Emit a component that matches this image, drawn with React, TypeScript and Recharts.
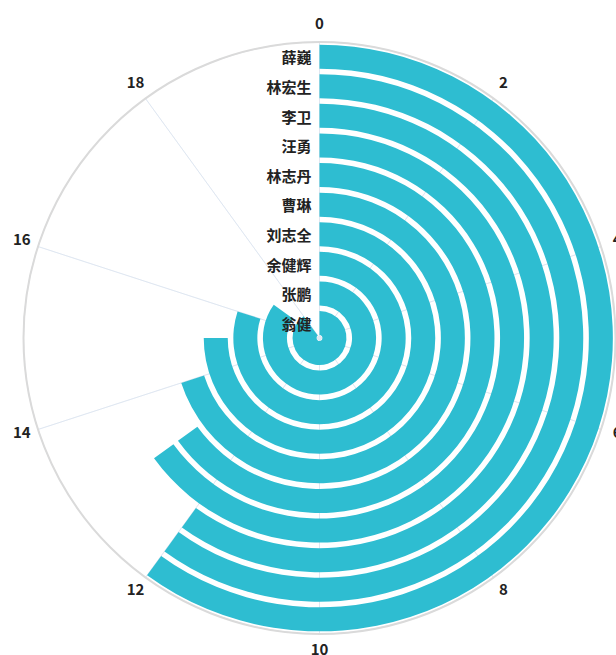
import React from 'react';
import { RadialBarChart, RadialBar, PolarGrid, PolarAngleAxis, PolarRadiusAxis } from 'recharts';

// inner ring first, outer ring last
const names = ['翁健', '张鹏', '余健辉', '刘志全', '曹琳', '林志丹', '汪勇', '李卫', '林宏生', '薛巍'];
const values = [18, 17, 16, 15, 14, 13, 13, 12, 12, 12];
const angleTicks = [0, 2, 4, 6, 8, 10, 12, 14, 16, 18];

const data = names.map((name, i) => ({ name, value: values[i] }));

const FONT = '"Noto Sans CJK SC", "Noto Sans", sans-serif';

const AngleTick = (props: any) => {
  const { x, y, payload } = props;
  return (
    <text x={x} y={y - 3} textAnchor="middle" dominantBaseline="central" fontSize={15} fontWeight={700} fill="#222" fontFamily={FONT}>
      {payload.value}
    </text>
  );
};

const NameTick = (props: any) => {
  const { x, y, payload } = props;
  return (
    <text x={x - 8} y={y} textAnchor="end" dominantBaseline="central" fontSize={15} fontWeight={700} fill="#222" fontFamily={FONT}>
      {payload.value}
    </text>
  );
};

export default function App() {
  return (
    <div style={{ position: 'fixed', left: 0, top: 0, width: 616, height: 655, background: '#fff' }}>
      <RadialBarChart
        width={616}
        height={655}
        data={data}
        cx={319.5}
        cy={338}
        innerRadius={0}
        outerRadius={296}
        startAngle={90}
        endAngle={-270}
        margin={{ top: 0, right: 0, bottom: 0, left: 0 }}
      >
        <PolarGrid gridType="circle" polarRadius={[296]} stroke="#dde4f0" />
        <PolarAngleAxis
          type="number"
          domain={[0, 20]}
          ticks={angleTicks}
          tickSize={17}
          tickLine={false}
          axisLineType="circle"
          axisLine={{ stroke: '#dadada', strokeWidth: 2 }}
          tick={<AngleTick />}
        />
        <PolarRadiusAxis
          type="category"
          dataKey="name"
          angle={90}
          axisLine={false}
          tickLine={false}
          tick={<NameTick />}
        />
        <RadialBar dataKey="value" fill="#2ebdd1" isAnimationActive={false} />
        {/* faint split lines showing through the bars */}
        <PolarGrid gridType="circle" polarRadius={[]} stroke="#e6f0f6" strokeOpacity={0.3} />
      </RadialBarChart>
    </div>
  );
}
